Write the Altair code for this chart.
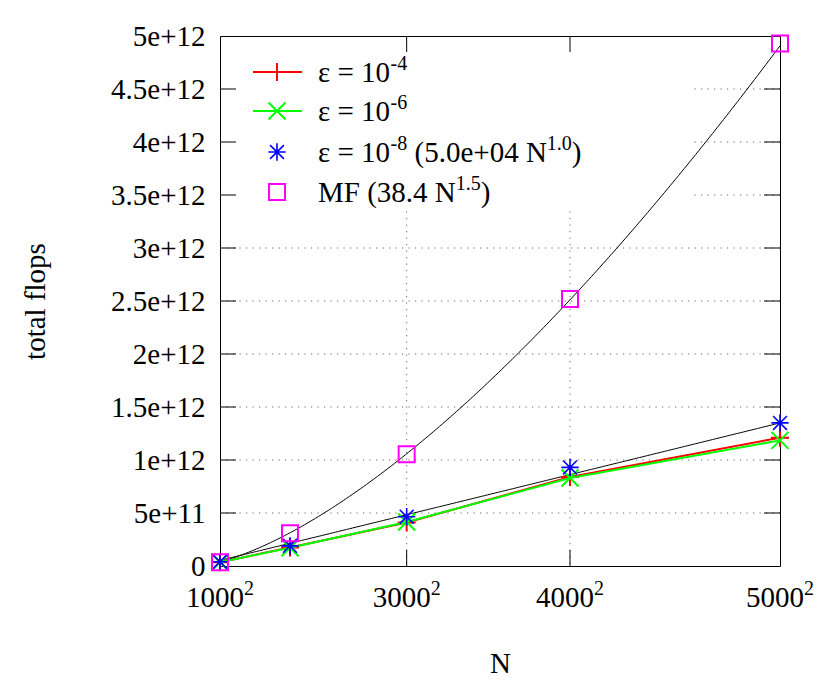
import altair as alt
import pandas as pd
import numpy as np

# ---- data ----
N_VALUES = [1e6, 4e6, 9e6, 16e6, 25e6]          # N = n^2, n = 1000..5000
FLOPS_EPS4 = [0.035e12, 0.175e12, 0.41e12, 0.84e12, 1.21e12]
FLOPS_EPS6 = [0.035e12, 0.172e12, 0.415e12, 0.83e12, 1.185e12]
FLOPS_EPS8 = [0.04e12, 0.19e12, 0.465e12, 0.93e12, 1.35e12]
FLOPS_MF = [0.035e12, 0.31e12, 1.055e12, 2.52e12, 4.93e12]
FIT_EPS8 = (5.0e4, 1.0045)   # a * N^b  (shown as 5.0e+04 N^1.0)
FIT_MF = (38.4, 1.5013)      # a * N^b  (shown as 38.4 N^1.5)
X_TICKS = [1e6, 9e6, 16e6, 25e6]
X_TICK_BASE = ["1000", "3000", "4000", "5000"]
Y_TICKS = [0, 5e11, 1e12, 1.5e12, 2e12, 2.5e12, 3e12, 3.5e12, 4e12, 4.5e12, 5e12]
# legend labels as (text, is_superscript) runs
LEGEND_LABELS = [
    [("ε = 10", False), ("-4", True)],
    [("ε = 10", False), ("-6", True)],
    [("ε = 10", False), ("-8", True), (" (5.0e+04 N", False), ("1.0", True), (")", False)],
    [("MF (38.4 N", False), ("1.5", True), (")", False)],
]

W, H = 560, 530
FONT = "Liberation Serif"
FS = 29
FS_SUP = 20
SUP_RISE = 12

# Times / Liberation Serif advance widths (em)
ADV = {" ": .25, "=": .564, "(": .333, ")": .333, ".": .25, "e": .444, "+": .564,
       "-": .333, "N": .722, "M": .889, "F": .556, "ε": .44}


def text_w(s, fs):
    return sum(ADV.get(c, .5) for c in s) * fs


PLUS = "M-1,0L1,0M0,-1L0,1"
CROSS = "M-1,-1L1,1M-1,1L1,-1"
STAR = "M-1,0L1,0M0,-1L0,1M-0.8,-0.8L0.8,0.8M-0.8,0.8L0.8,-0.8"

xscale = alt.Scale(domain=[1e6, 25e6], nice=False, zero=False)
yscale = alt.Scale(domain=[0, 5e12], nice=False)

x_enc = alt.X("N:Q", scale=xscale, title="N",
              axis=alt.Axis(values=X_TICKS, labels=False,
                            titleX=W / 2, titleY=97, titleBaseline="middle"))
y_enc = alt.Y("flops:Q", scale=yscale, title="total flops",
              axis=alt.Axis(values=Y_TICKS,
                            labelExpr="datum.value == 0 ? '0' : replace(format(datum.value, '.1e'), '.0e', 'e')",
                            labelFlush=False, labelOverlap=False, labelPadding=15,
                            titleX=-185, titleY=H / 2, titleBaseline="middle",
                            titleAlign="center"))

pts = pd.DataFrame({"N": N_VALUES, "e4": FLOPS_EPS4, "e6": FLOPS_EPS6,
                    "e8": FLOPS_EPS8, "mf": FLOPS_MF})

nn = np.linspace(N_VALUES[0], N_VALUES[-1], 200)
fit_df = pd.concat([
    pd.DataFrame({"N": nn, "flops": FIT_EPS8[0] * nn ** FIT_EPS8[1], "k": "lin"}),
    pd.DataFrame({"N": nn, "flops": FIT_MF[0] * nn ** FIT_MF[1], "k": "mf"}),
])

one = pd.DataFrame({"a": [0]})
ygrid = pd.DataFrame({"flops": Y_TICKS[1:-1]})
xgrid = pd.DataFrame({"N": X_TICKS[1:-1]})
xlab = pd.DataFrame({"N": X_TICKS, "base": X_TICK_BASE})

DASH = [1.2, 5.3]
GRID_C = "#666666"

layers = []
# grid
layers.append(alt.Chart(ygrid).mark_rule(color=GRID_C, strokeWidth=1, strokeDash=DASH)
              .encode(y=y_enc, x=alt.value(0), x2=alt.value(W)))
layers.append(alt.Chart(xgrid).mark_rule(color=GRID_C, strokeWidth=1, strokeDash=DASH)
              .encode(x=x_enc, y=alt.value(0), y2=alt.value(H)))
# opaque legend box
layers.append(alt.Chart(one).mark_rect(color="white")
              .encode(x=alt.value(1), x2=alt.value(470), y=alt.value(1), y2=alt.value(174)))
# fit curves
layers.append(alt.Chart(fit_df).mark_line(color="black", strokeWidth=1)
              .encode(x=x_enc, y=y_enc, detail="k:N"))


def series(col, color, shape, size, line):
    base = alt.Chart(pts).transform_calculate(flops=f"datum.{col}")
    out = []
    if line:
        out.append(base.mark_line(color=color, strokeWidth=2).encode(x=x_enc, y=y_enc))
    out.append(base.mark_point(shape=shape, size=size, filled=False, color=color,
                               strokeWidth=2 if shape != STAR else 1.6, opacity=1)
               .encode(x=x_enc, y=y_enc))
    return out


layers += series("e4", "#ff0000", PLUS, 324, True)
layers += series("e6", "#00ff00", CROSS, 289, True)
layers += series("e8", "#0000ff", STAR, 300, False)
layers += series("mf", "#ff00ff", "square", 256, False)

# inward ticks (mirrored on all four sides)
TL = 16
ytk = pd.DataFrame({"flops": Y_TICKS[1:-1]})
xtk = pd.DataFrame({"N": X_TICKS[1:-1]})
for x0, x1 in [(0, TL), (W - TL, W)]:
    layers.append(alt.Chart(ytk).mark_rule(color="black", strokeWidth=1)
                  .encode(y=y_enc, x=alt.value(x0), x2=alt.value(x1)))
for y0, y1 in [(0, TL), (H - TL, H)]:
    layers.append(alt.Chart(xtk).mark_rule(color="black", strokeWidth=1)
                  .encode(x=x_enc, y=alt.value(y0), y2=alt.value(y1)))

# x tick labels  n^2 with a real superscript
base_w = text_w("1000", FS)
sup_w = text_w("2", FS_SUP)
start = -(base_w + sup_w) / 2
XL_BASE = H + 41
layers.append(alt.Chart(xlab).mark_text(font=FONT, fontSize=FS, align="left",
                                        baseline="alphabetic", dx=start, color="black")
              .encode(x=x_enc, y=alt.value(XL_BASE), text="base:N"))
layers.append(alt.Chart(xlab).mark_text(font=FONT, fontSize=FS_SUP, align="left", text="2",
                                        baseline="alphabetic", dx=start + base_w,
                                        dy=-SUP_RISE, color="black")
              .encode(x=x_enc, y=alt.value(XL_BASE)))

# legend
ROWS = [36, 75, 116, 156]
LEG = [("#ff0000", PLUS, 324, True), ("#00ff00", CROSS, 289, True),
       ("#0000ff", STAR, 300, False), ("#ff00ff", "square", 256, False)]
TX = 98
for (color, shape, size, line), ry, runs in zip(LEG, ROWS, LEGEND_LABELS):
    if line:
        layers.append(alt.Chart(one).mark_rule(color=color, strokeWidth=2)
                      .encode(x=alt.value(33), x2=alt.value(82), y=alt.value(ry)))
    layers.append(alt.Chart(one).mark_point(shape=shape, size=size, filled=False, color=color,
                                            strokeWidth=2 if shape != STAR else 1.6, opacity=1)
                  .encode(x=alt.value(57), y=alt.value(ry)))
    cx = TX
    for txt, sup in runs:
        fs = FS_SUP if sup else FS
        lead = len(txt) - len(txt.lstrip(" "))
        cx += text_w(" " * lead, fs)
        body = txt.lstrip(" ")
        layers.append(alt.Chart(one).mark_text(text=body, font=FONT, fontSize=fs, align="left",
                                               baseline="alphabetic", color="black")
                      .encode(x=alt.value(cx), y=alt.value(ry + 10 - (SUP_RISE if sup else 0))))
        cx += text_w(body, fs)

chart = (alt.layer(*layers)
         .properties(width=W, height=H,
                     autosize=alt.AutoSizeParams(type="none"),
                     padding={"left": 212, "top": 28, "right": 40, "bottom": 118},
                     background="white")
         .configure_view(stroke="black", strokeWidth=1)
         .configure_axis(domain=False, ticks=False, tickSize=0, grid=False,
                         labelFont=FONT, labelFontSize=FS, labelColor="black",
                         titleFont=FONT, titleFontSize=FS, titleFontWeight="normal",
                         titleColor="black"))

chart.save("out.html", embed_options={"renderer": "svg", "actions": False})
